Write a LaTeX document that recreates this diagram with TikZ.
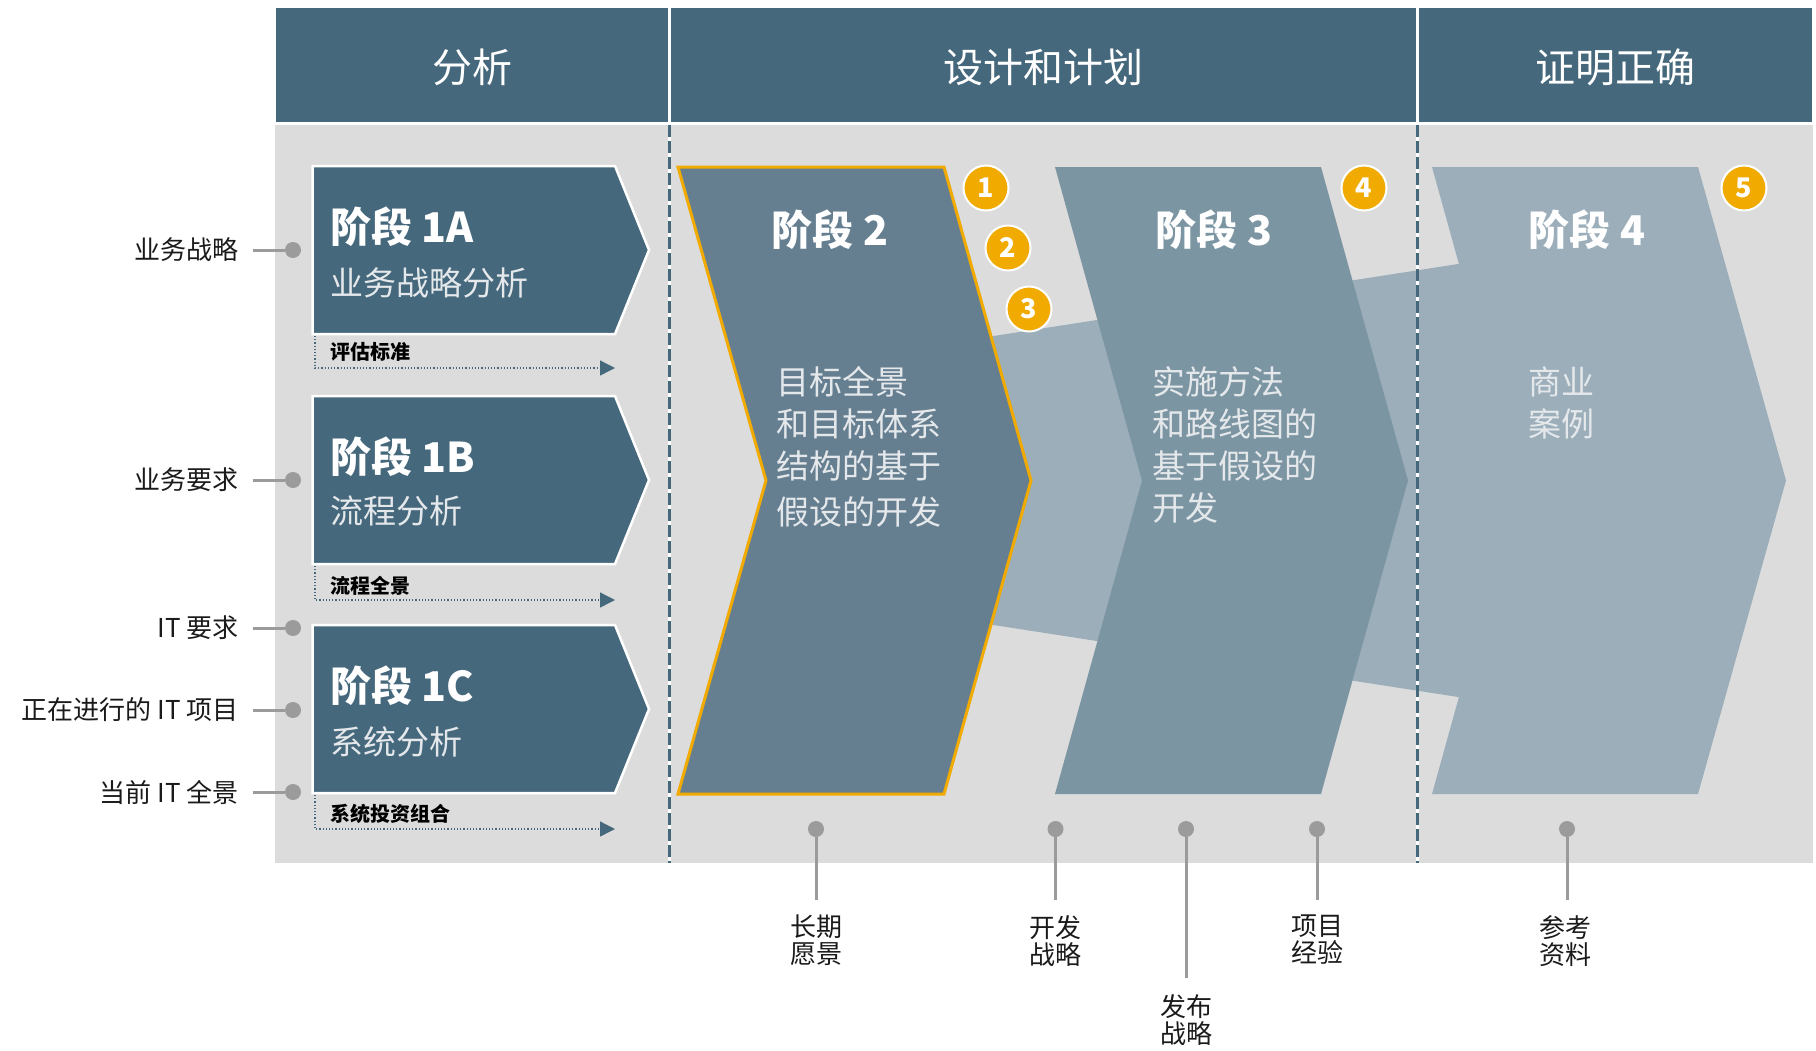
\documentclass[tikz,border=0pt]{standalone}
\usepackage{fontspec}
\setmainfont{Noto Sans CJK SC}
\usetikzlibrary{arrows.meta}
\definecolor{hdr}{HTML}{45687C}
\definecolor{bodyg}{HTML}{DCDCDC}
\definecolor{sII}{HTML}{657F91}
\definecolor{sIII}{HTML}{7C95A3}
\definecolor{sIV}{HTML}{9BAEBA}
\definecolor{org}{HTML}{F0AA00}
\definecolor{ping}{HTML}{9B9B9B}
\definecolor{lbltxt}{HTML}{1A1A1A}
\definecolor{subtxt}{HTML}{E4E8EB}
\begin{document}
\begin{tikzpicture}[x=1pt,y=-1pt,
  hdrbox/.style={fill=hdr, draw=white, line width=2.5pt},
  hdrtext/.style={text=white, font=\fontsize{40}{48}\selectfont, inner sep=0},
  boxone/.style={fill=hdr, draw=white, line width=2.5pt, line join=miter},
  ttl/.style={text=white, font=\bfseries\fontsize{41}{48}\selectfont, inner sep=0},
  subttl/.style={text=subtxt, font=\fontsize{33}{40}\selectfont, anchor=west, inner sep=0},
  outlbl/.style={text=black, font=\bfseries\fontsize{20}{24}\selectfont, anchor=west, inner sep=0},
  flowline/.style={draw=hdr, line width=1.4pt, dash pattern=on 1.2pt off 2pt, -{Triangle[length=15pt,width=15pt]}},
  pindot/.style={circle, fill=ping, minimum size=16pt, inner sep=0},
  pinline/.style={draw=ping, line width=3pt},
  sidelbl/.style={text=lbltxt, font=\fontsize{26}{28}\selectfont, anchor=east, inner sep=0},
  botlbl/.style={text=lbltxt, font=\fontsize{26}{27}\selectfont, anchor=north, align=center, inner sep=0},
  bodytxt/.style={text=subtxt, font=\fontsize{33}{42}\selectfont, anchor=north west, align=left, inner sep=0},
  numc/.style={circle, fill=org, draw=white, line width=2pt, minimum size=45pt, inner sep=0, text=white, font=\bfseries\fontsize{27}{27}\selectfont},
  divw/.style={draw=white, line width=2.5pt},
  divd/.style={draw=hdr, line width=2.5pt, dash pattern=on 12pt off 4pt},
]
\useasboundingbox (0,0) rectangle (1816,1050);

% body background
\fill[bodyg] (274.5,125) rectangle (1813,863);

% header
\path[hdrbox] (274.5,7) rectangle (669.5,123);
\path[hdrbox] (669.5,7) rectangle (1417.5,123);
\path[hdrbox] (1417.5,7) rectangle (1813,123);
\node[hdrtext] (h1) at (472,67) {分析};
\node[hdrtext] (h2) at (1043.5,67) {设计和计划};
\node[hdrtext] (h3) at (1615,67) {证明正确};

% band behind stages 2-4
\fill[sIV] (900,350.5) -- (1520,254.4) -- (1520,706.6) -- (900,610.5) -- cycle;

% dividers
\coordinate (d1t) at (669.5,125); \coordinate (d1b) at (669.5,863);
\coordinate (d2t) at (1417.5,125); \coordinate (d2b) at (1417.5,863);
\draw[divw] (d1t) -- (d1b); \draw[divd] (d1t) -- (d1b);
\draw[divw] (d2t) -- (d2b); \draw[divd] (d2t) -- (d2b);

% stage 1 boxes
\path[boxone] (312.5,166) -- (615,166) -- (649,250) -- (615,334) -- (312.5,334) -- cycle;
\path[boxone] (312.5,396) -- (615,396) -- (649,480) -- (615,564) -- (312.5,564) -- cycle;
\path[boxone] (312.5,625) -- (615,625) -- (649,709) -- (615,793) -- (312.5,793) -- cycle;
\node[ttl, anchor=west] (t1a) at (330,227) {阶段 1A};
\node[subttl] (u1a) at (330,283) {业务战略分析};
\node[ttl, anchor=west] (t1b) at (330,457) {阶段 1B};
\node[subttl] (u1b) at (330,511) {流程分析};
\node[ttl, anchor=west] (t1c) at (330,686) {阶段 1C};
\node[subttl] (u1c) at (330,742) {系统分析};

% outputs of stage 1
\node[outlbl] (o1) at (330,352) {评估标准};
\node[outlbl] (o2) at (330,586) {流程全景};
\node[outlbl] (o3) at (330,814) {系统投资组合};
\coordinate (f1a) at (315,336); \coordinate (f1b) at (615,368);
\coordinate (f2a) at (315,566); \coordinate (f2b) at (615,600);
\coordinate (f3a) at (315,795); \coordinate (f3b) at (615,829);
\draw[flowline] (f1a) |- (f1b);
\draw[flowline] (f2a) |- (f2b);
\draw[flowline] (f3a) |- (f3b);

% stage 2,3,4 chevrons
\draw[fill=sII, draw=org, line width=3pt, line join=miter]
  (678,167) -- (944,167) -- (1031,480.5) -- (944,794) -- (678,794) -- (766,480.5) -- cycle;
\fill[sIII] (1055,167) -- (1321,167) -- (1408,480.5) -- (1321,794) -- (1055,794) -- (1142,480.5) -- cycle;
\fill[sIV] (1432,167) -- (1698,167) -- (1786,480.5) -- (1698,794) -- (1432,794) -- (1519,480.5) -- cycle;

\node[ttl] (t2) at (830,230) {阶段 2};
\node[ttl] (t3) at (1214,230) {阶段 3};
\node[ttl] (t4) at (1587,230) {阶段 4};
\node[bodytxt] (b2) at (776,366) {目标全景\\和目标体系\\结构的基于\\[4pt]假设的开发};
\node[bodytxt] (b3) at (1152,366) {实施方法\\和路线图的\\基于假设的\\开发};
\node[bodytxt] (b4) at (1528,366) {商业\\案例};

% numbered circles
\node[numc] (n1) at (986,188) {1};
\node[numc] (n2) at (1008,248) {2};
\node[numc] (n3) at (1029,309) {3};
\node[numc] (n4) at (1364,188) {4};
\node[numc] (n5) at (1744,188) {5};

% left inputs
\node[sidelbl] (l1) at (239,250) {业务战略};
\node[sidelbl] (l2) at (239,480) {业务要求};
\node[sidelbl] (l3) at (239,628) {IT 要求};
\node[sidelbl] (l4) at (239,710) {正在进行的 IT 项目};
\node[sidelbl] (l5) at (239,792) {当前 IT 全景};
\node[pindot] (p1) at (293,250) {};
\node[pindot] (p2) at (293,480) {};
\node[pindot] (p3) at (293,628) {};
\node[pindot] (p4) at (293,710) {};
\node[pindot] (p5) at (293,792) {};
\coordinate (c1) at (253,250); \coordinate (c2) at (253,480);
\coordinate (c3) at (253,628); \coordinate (c4) at (253,710);
\coordinate (c5) at (253,792);
\draw[pinline] (c1) -- (p1);
\draw[pinline] (c2) -- (p2);
\draw[pinline] (c3) -- (p3);
\draw[pinline] (c4) -- (p4);
\draw[pinline] (c5) -- (p5);

% bottom outputs
\node[pindot] (q1) at (816,829) {};
\node[pindot] (q2) at (1055.5,829) {};
\node[pindot] (q3) at (1186,829) {};
\node[pindot] (q4) at (1317,829) {};
\node[pindot] (q5) at (1567,829) {};
\coordinate (e1) at (816,900);
\coordinate (e2) at (1055.5,900);
\coordinate (e3) at (1186,978);
\coordinate (e4) at (1317,900);
\coordinate (e5) at (1567,900);
\draw[pinline] (q1) -- (e1);
\draw[pinline] (q2) -- (e2);
\draw[pinline] (q3) -- (e3);
\draw[pinline] (q4) -- (e4);
\draw[pinline] (q5) -- (e5);
\node[botlbl] (r1) at (816,915) {长期\\愿景};
\node[botlbl] (r2) at (1055.5,915) {开发\\战略};
\node[botlbl] (r3) at (1186,994) {发布\\战略};
\node[botlbl] (r4) at (1317,915) {项目\\经验};
\node[botlbl] (r5) at (1565,915) {参考\\资料};
\end{tikzpicture}
\end{document}
